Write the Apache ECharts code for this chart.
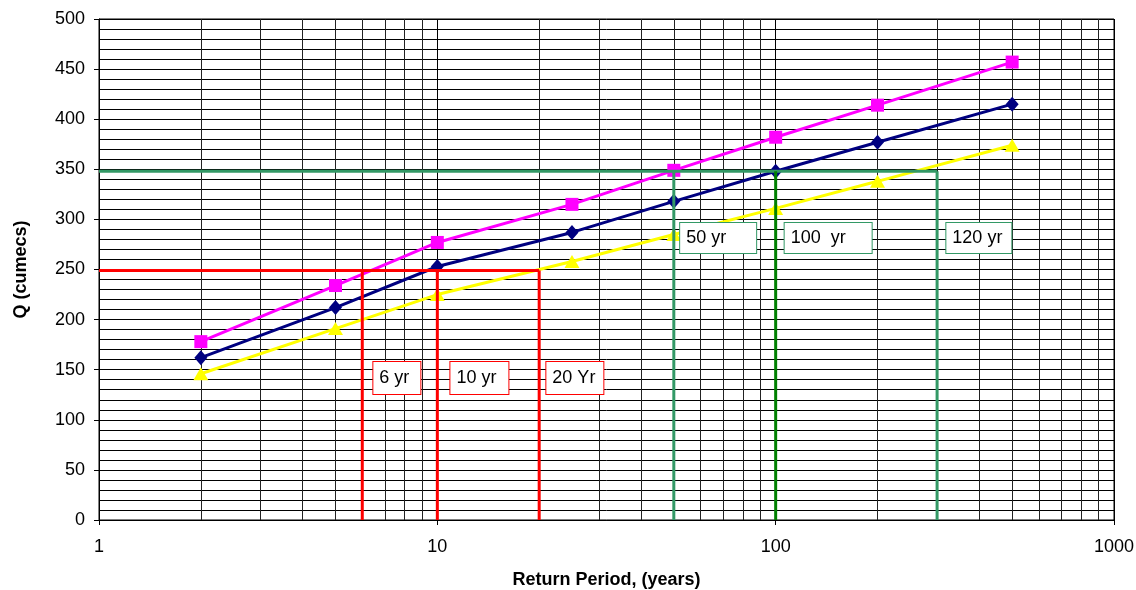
<!DOCTYPE html>
<html>
<head>
<meta charset="utf-8">
<script src="https://cdn.jsdelivr.net/npm/echarts@6/dist/echarts.min.js"></script>
<style>
html,body{margin:0;padding:0;background:#fff;}
#chart{width:1136px;height:590px;}
</style>
</head>
<body>
<div id="chart"></div>
<script>
// ---- data ----
const years = [2, 5, 10, 25, 50, 100, 200, 500];
const qMagenta = [178, 234, 277, 315, 349, 382, 414, 457];
const qNavy = [162, 212, 253, 287, 318, 348, 377, 415];
const qYellow = [146, 191, 225, 258, 285, 311, 338, 374];

const xTickLabels = ['1', '10', '100', '1000'];
const minorYears = [2,3,4,5,6,7,8,9,20,30,40,50,60,70,80,90,200,300,400,500,600,700,800,900];

const redQ = 249;
const redYears = [6, 10, 20];
const greenQ = 348;
const greenYears = [50, 100, 300];

const redLabels = ['6 yr', '10 yr', '20 Yr'];
const redLabelAnchors = [[6.47, 157.7], [10.93, 157.7], [21.0, 157.7]];
const greenLabels = ['50 yr', '100  yr', '120 yr'];
const greenLabelAnchors = [[52.2, 296.4], [106.3, 296.4], [319.5, 296.4]];

// ---- chart ----
const FONT = "'Liberation Sans', Arial, sans-serif";
const chart = echarts.init(document.getElementById('chart'));

function zip(xs, ys) { return xs.map((x, i) => [x, ys[i]]); }

const refSeries = [];
refSeries.push({ type: 'line', data: [[1, redQ], [redYears[redYears.length - 1], redQ]],
  symbol: 'none', lineStyle: { color: '#FF0000', width: 3 }, z: 4, silent: true });
redYears.forEach(y => refSeries.push({ type: 'line', data: [[y, 0], [y, redQ]],
  symbol: 'none', lineStyle: { color: '#FF0000', width: 3 }, z: 4, silent: true }));
refSeries.push({ type: 'line', data: [[1, greenQ], [greenYears[greenYears.length - 1], greenQ]],
  symbol: 'none', lineStyle: { color: '#339966', width: 3 }, z: 4, silent: true });
const greenVColors = ['#339966', '#008000', '#339966'];
greenYears.forEach((y, i) => refSeries.push({ type: 'line', data: [[y, 0], [y, greenQ]],
  symbol: 'none', lineStyle: { color: greenVColors[i], width: 3 }, z: 4, silent: true }));

const redWidths = [47, 58, 57];
const greenWidths = [76, 87, 65];
function labelSeries(texts, anchors, widths, height, border) {
  return {
    type: 'scatter', symbolSize: 0, z: 10, silent: true,
    itemStyle: { color: '#000', opacity: 1 },
    data: texts.map((t, i) => ({
      value: anchors[i], name: t,
      label: { width: widths[i] - 8 }
    })),
    label: {
      show: true, position: [0, 0], align: 'left', verticalAlign: 'top',
      formatter: p => p.name,
      fontFamily: FONT, fontSize: 18, color: '#000', opacity: 1,
      textBorderWidth: 0, textBorderColor: 'transparent',
      backgroundColor: '#fff', borderColor: border, borderWidth: 1,
      padding: [(height - 20) / 2, 2, (height - 20) / 2, 6], lineHeight: 20
    }
  };
}

const option = {
  animation: false,
  backgroundColor: '#fff',
  grid: { left: 99, right: 22, top: 19, bottom: 70, outerBoundsMode: 'none', containLabel: false,
    show: true, borderColor: '#000', borderWidth: 1 },
  xAxis: {
    type: 'log', logBase: 10, min: 1, max: 1000,
    name: 'Return Period, (years)', nameLocation: 'middle', nameGap: 51,
    nameTextStyle: { fontFamily: FONT, fontSize: 18, fontWeight: 'bold', color: '#000' },
    axisLine: { lineStyle: { color: '#000', width: 1 } },
    axisTick: { show: true, length: 5, lineStyle: { color: '#000' } },
    axisLabel: { fontFamily: FONT, fontSize: 18, color: '#000', margin: 18,
      formatter: v => { const i = Math.round(Math.log10(v)); return xTickLabels[i] !== undefined ? xTickLabels[i] : ''; } },
    splitLine: { show: true, lineStyle: { color: '#000', width: 1 } }
  },
  yAxis: {
    type: 'value', min: 0, max: 500, interval: 50,
    name: 'Q (cumecs)', nameLocation: 'middle', nameGap: 69, nameRotate: 90,
    nameTextStyle: { fontFamily: FONT, fontSize: 18, fontWeight: 'bold', color: '#000' },
    axisLine: { show: true, lineStyle: { color: '#000', width: 1 } },
    axisTick: { show: true, length: 5, lineStyle: { color: '#000' } },
    axisLabel: { fontFamily: FONT, fontSize: 18, color: '#000', margin: 14 },
    splitLine: { show: true, lineStyle: { color: '#000', width: 1 } },
    minorTick: { show: false, splitNumber: 5 },
    minorSplitLine: { show: true, lineStyle: { color: '#000', width: 1 } }
  },
  series: [
    { type: 'line', data: [], z: 1, silent: true,
      markLine: { z: 1, silent: true, symbol: 'none', label: { show: false },
        lineStyle: { color: '#222', width: 1, type: 'solid' },
        data: minorYears.map(v => ({ xAxis: v })) } },
    { name: 'Magenta', type: 'line', data: zip(years, qMagenta), z: 3,
      symbol: 'rect', symbolSize: 13,
      itemStyle: { color: '#FF00FF' }, lineStyle: { color: '#FF00FF', width: 3 } },
    { name: 'Navy', type: 'line', data: zip(years, qNavy), z: 3,
      symbol: 'diamond', symbolSize: [13, 15],
      itemStyle: { color: '#000080' }, lineStyle: { color: '#000080', width: 3 } },
    { name: 'Yellow', type: 'line', data: zip(years, qYellow), z: 3,
      symbol: 'triangle', symbolSize: [15, 13],
      itemStyle: { color: '#FFFF00' }, lineStyle: { color: '#FFFF00', width: 3 } },
    ...refSeries,
    labelSeries(redLabels, redLabelAnchors, redWidths, 32, '#FF0000'),
    labelSeries(greenLabels, greenLabelAnchors, greenWidths, 30, '#339966')
  ]
};
chart.setOption(option);
</script>
</body>
</html>
